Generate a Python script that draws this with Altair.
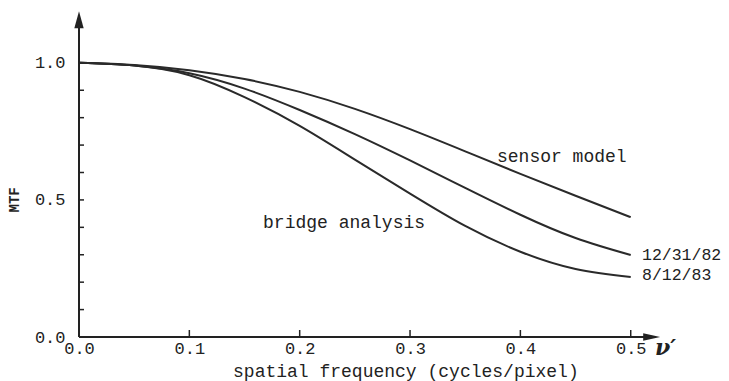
import altair as alt
import pandas as pd

# ---- data ----
freq = [0.0, 0.05, 0.1, 0.15, 0.2, 0.25, 0.3, 0.35, 0.4, 0.45, 0.5]
sensor_model = [1.0, 0.992, 0.973, 0.941, 0.894, 0.832, 0.758, 0.677, 0.595, 0.515, 0.437]
mtf_123182 = [1.0, 0.99, 0.962, 0.906, 0.828, 0.74, 0.644, 0.544, 0.446, 0.361, 0.299]
mtf_81283 = [1.0, 0.99, 0.955, 0.875, 0.77, 0.647, 0.523, 0.405, 0.311, 0.248, 0.219]
series_names = ["sensor model", "12/31/82", "8/12/83"]

x_tick_values = [0.0, 0.1, 0.2, 0.3, 0.4, 0.5]
y_label_values = [0.0, 0.5, 1.0]
y_tick_values = [0.1, 0.2, 0.3, 0.4, 0.5, 0.6, 0.7, 0.8, 0.9]

labels_text = ["sensor model", "bridge analysis", "12/31/82", "8/12/83"]
labels_x = [0.3788, 0.1668, 0.5102, 0.5102]
labels_y = [0.638, 0.399, 0.281, 0.208]

INK = "#222222"
MONO = "Liberation Mono"

rows = []
for name, vals in zip(series_names, [sensor_model, mtf_123182, mtf_81283]):
    for f, v in zip(freq, vals):
        rows.append({"series": name, "x": f, "y": v})
curves_df = pd.DataFrame(rows)

xscale = alt.Scale(domain=[0, 0.58], nice=False, zero=False)
yscale = alt.Scale(domain=[0, 1.2], nice=False, zero=False)
xaxis = alt.Axis(values=x_tick_values, format=".1f", domain=False, ticks=False,
                 grid=False, labelFont=MONO, labelFontSize=17, labelPadding=3,
                 labelColor=INK, title=None, labelFlush=False)
yaxis = alt.Axis(values=y_label_values, format=".1f", domain=False, ticks=False,
                 grid=False, labelFont=MONO, labelFontSize=17, labelPadding=14,
                 labelColor=INK, title=None)


def X(field):
    return alt.X(field, type="quantitative", scale=xscale, axis=xaxis, title=None)


def Y(field):
    return alt.Y(field, type="quantitative", scale=yscale, axis=yaxis, title=None)


curves = alt.Chart(curves_df).mark_line(
    interpolate="natural", color="#2a2a2a", strokeWidth=2
).encode(x=X("x"), y=Y("y"), detail="series:N")

# axis lines
xaxis_df = pd.DataFrame({"x": [0.0], "x2": [0.515], "y": [0.0]})
x_line = alt.Chart(xaxis_df).mark_rule(color=INK, strokeWidth=2).encode(
    x=X("x"), x2="x2", y=Y("y"))
yaxis_df = pd.DataFrame({"x": [0.0], "y": [0.0], "y2": [1.14]})
y_line = alt.Chart(yaxis_df).mark_rule(color=INK, strokeWidth=2).encode(
    x=X("x"), y=Y("y"), y2="y2")

# arrowheads
xarrow = alt.Chart(pd.DataFrame({"x": [0.519], "y": [0.0]})).mark_point(
    shape="M-1,-0.43L1,0L-1,0.43Z", size=289, filled=True, color=INK, opacity=1
).encode(x=X("x"), y=Y("y"))
yarrow = alt.Chart(pd.DataFrame({"x": [0.0], "y": [1.157]})).mark_point(
    shape="M-0.55,1L0,-1L0.55,1Z", size=289, filled=True, color=INK, opacity=1
).encode(x=X("x"), y=Y("y"))

# ticks
xticks = alt.Chart(pd.DataFrame({"x": x_tick_values[1:], "y": [0.0] * 5})).mark_tick(
    orient="vertical", size=7, thickness=1.5, color=INK, yOffset=-3.5, opacity=1
).encode(x=X("x"), y=Y("y"))
yticks = alt.Chart(pd.DataFrame({"y": y_tick_values, "x": [0.0] * len(y_tick_values)})).mark_tick(
    orient="horizontal", size=5, thickness=1.5, color=INK, xOffset=2.5, opacity=1
).encode(x=X("x"), y=Y("y"))

# curve labels
lab_df = pd.DataFrame({"text": labels_text, "x": labels_x, "y": labels_y,
                       "fs": [18, 18, 16.5, 16.5]})
curve_labels = alt.Chart(lab_df).mark_text(
    font=MONO, align="left", baseline="alphabetic", color=INK
).encode(x=X("x"), y=Y("y"), text="text:N", size=alt.Size("fs:Q", scale=None, legend=None))

# axis titles
xtitle = alt.Chart(pd.DataFrame({"x": [0.1396], "y": [-0.146], "t": ["spatial frequency (cycles/pixel)"]})).mark_text(
    font=MONO, fontSize=18, align="left", baseline="alphabetic", color=INK
).encode(x=X("x"), y=Y("y"), text="t:N")
nu = alt.Chart(pd.DataFrame({"x": [0.522], "y": [-0.066], "t": ["ν′"]})).mark_text(
    font="DejaVu Serif", fontSize=22, fontStyle="italic", fontWeight="bold",
    align="left", baseline="alphabetic", color=INK
).encode(x=X("x"), y=Y("y"), text="t:N")
ytitle = alt.Chart(pd.DataFrame({"x": [-0.058], "y": [0.5], "t": ["MTF"]})).mark_text(
    font=MONO, fontSize=14, fontWeight="bold", angle=270, align="center",
    baseline="middle", color=INK
).encode(x=X("x"), y=Y("y"), text="t:N")

chart = alt.layer(
    curves, x_line, y_line, xarrow, yarrow, xticks, yticks,
    curve_labels, xtitle, nu, ytitle
).properties(
    width=640, height=329,
    autosize=alt.AutoSizeParams(type="none"),
    padding={"left": 71, "top": 0, "right": 2, "bottom": 44},
    background="white",
).configure_view(stroke=None)

chart.save("out.html", embed_options={"renderer": "svg", "actions": False})
